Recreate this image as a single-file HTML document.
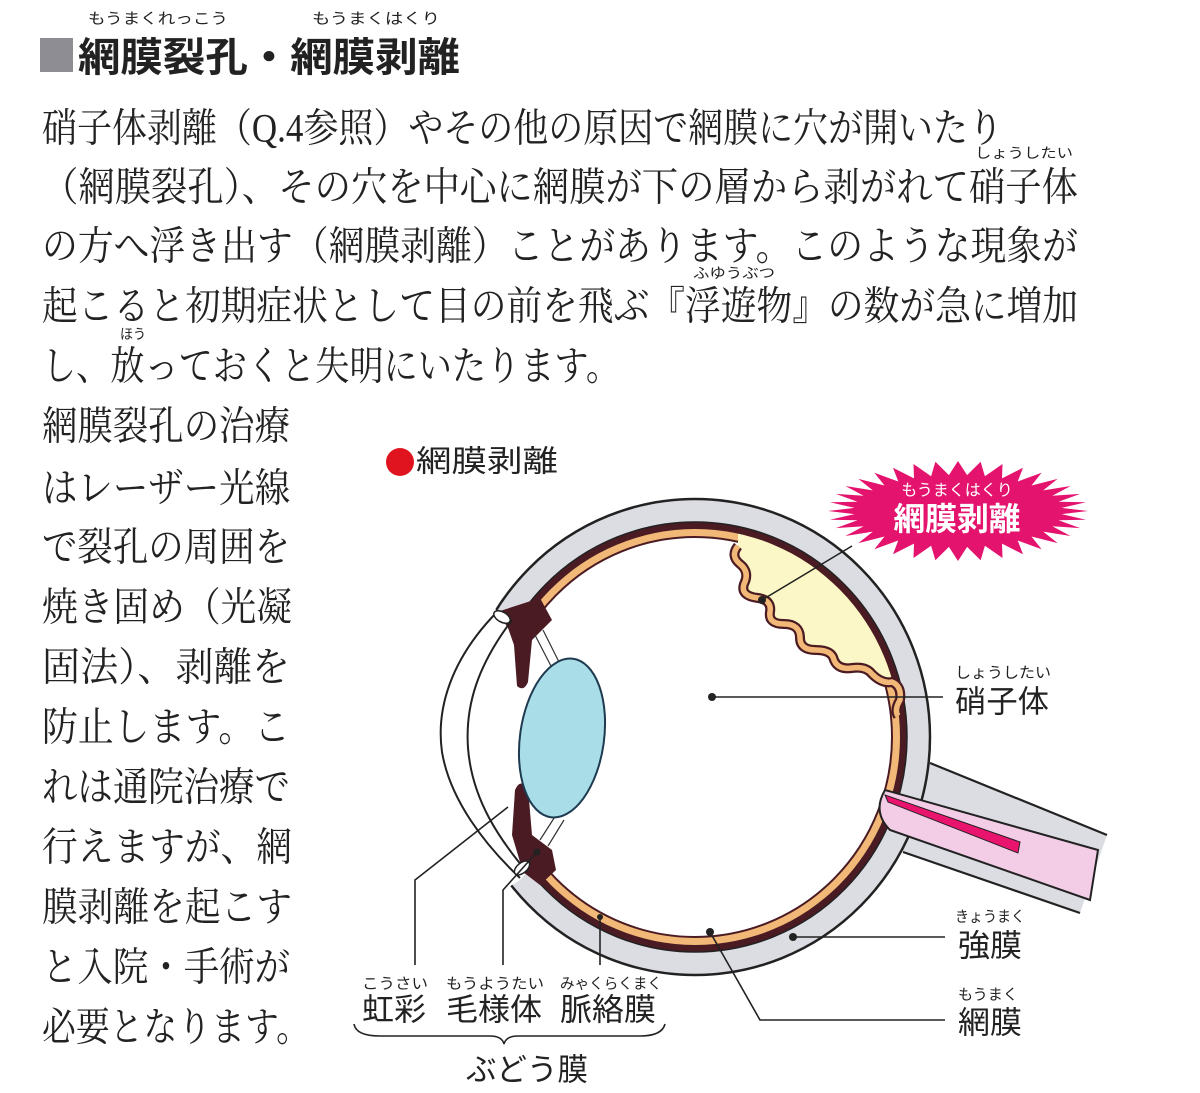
<!DOCTYPE html>
<html><head><meta charset="utf-8"><style>
html,body{margin:0;padding:0;background:#fff;}
svg{display:block;}
.m{font-family:"Liberation Serif","Noto Serif CJK JP","Noto Serif CJK SC",serif;fill:#222;}
.g{font-family:"Liberation Sans","Noto Sans CJK JP",sans-serif;fill:#222;}
</style></head><body>
<svg width="1200" height="1093" viewBox="0 0 1200 1093" xmlns="http://www.w3.org/2000/svg">
<defs>
<clipPath id="ch"><ellipse cx="695" cy="737" rx="205" ry="208"/></clipPath>
</defs>
<rect x="40" y="38" width="33" height="34" fill="#8d8d93"/>
<text class="g" x="78" y="58" font-size="40" font-weight="bold" dominant-baseline="central" textLength="382" lengthAdjust="spacingAndGlyphs">網膜裂孔・網膜剥離</text>
<text class="g" x="88" y="19" font-size="15" dominant-baseline="central" textLength="140" lengthAdjust="spacingAndGlyphs">もうまくれっこう</text>
<text class="g" x="312" y="19" font-size="15" dominant-baseline="central" textLength="128" lengthAdjust="spacingAndGlyphs">もうまくはくり</text>

<g class="m" font-size="40">
<text x="42" y="128" dominant-baseline="central" textLength="961" lengthAdjust="spacingAndGlyphs">硝子体剥離（Q.4参照）やその他の原因で網膜に穴が開いたり</text>
<text x="42" y="187" dominant-baseline="central" textLength="1036" lengthAdjust="spacingAndGlyphs">（網膜裂孔）、その穴を中心に網膜が下の層から剥がれて硝子体</text>
<text x="42" y="246" dominant-baseline="central" textLength="1036" lengthAdjust="spacingAndGlyphs">の方へ浮き出す（網膜剥離）ことがあります。このような現象が</text>
<text x="42" y="306" dominant-baseline="central" textLength="1036" lengthAdjust="spacingAndGlyphs">起こると初期症状として目の前を飛ぶ『浮遊物』の数が急に増加</text>
<text x="42" y="366" dominant-baseline="central" textLength="578" lengthAdjust="spacingAndGlyphs">し、放っておくと失明にいたります。</text>
</g>
<g class="g" font-size="14">
<text x="975" y="153" dominant-baseline="central" textLength="98" lengthAdjust="spacingAndGlyphs">しょうしたい</text>
<text x="693" y="273" dominant-baseline="central" textLength="82" lengthAdjust="spacingAndGlyphs">ふゆうぶつ</text>
<text x="120" y="334" dominant-baseline="central" textLength="26" lengthAdjust="spacingAndGlyphs">ほう</text>
</g>
<g class="m" font-size="40">
<text x="42" y="426" dominant-baseline="central" textLength="248" lengthAdjust="spacingAndGlyphs">網膜裂孔の治療</text>
<text x="42" y="488" dominant-baseline="central" textLength="248" lengthAdjust="spacingAndGlyphs">はレーザー光線</text>
<text x="42" y="547" dominant-baseline="central" textLength="248" lengthAdjust="spacingAndGlyphs">で裂孔の周囲を</text>
<text x="42" y="607" dominant-baseline="central" textLength="250" lengthAdjust="spacingAndGlyphs">焼き固め（光凝</text>
<text x="42" y="667" dominant-baseline="central" textLength="248" lengthAdjust="spacingAndGlyphs">固法）、剥離を</text>
<text x="42" y="727" dominant-baseline="central" textLength="248" lengthAdjust="spacingAndGlyphs">防止します。こ</text>
<text x="42" y="787" dominant-baseline="central" textLength="248" lengthAdjust="spacingAndGlyphs">れは通院治療で</text>
<text x="42" y="847" dominant-baseline="central" textLength="250" lengthAdjust="spacingAndGlyphs">行えますが、網</text>
<text x="42" y="907" dominant-baseline="central" textLength="250" lengthAdjust="spacingAndGlyphs">膜剥離を起こす</text>
<text x="42" y="967" dominant-baseline="central" textLength="248" lengthAdjust="spacingAndGlyphs">と入院・手術が</text>
<text x="42" y="1027" dominant-baseline="central" textLength="268" lengthAdjust="spacingAndGlyphs">必要となります。</text>
</g>

<circle cx="400" cy="462" r="14" fill="#e0141e"/>
<text class="g" x="416" y="462" font-size="30" dominant-baseline="central" textLength="142" lengthAdjust="spacingAndGlyphs">網膜剥離</text>

<path d="M905,745 L930,763 L1107,835 L1080,913 L903,852 Z" fill="#dcdde3"/>
<path d="M930,763 L1107,835 M903,852 L1080,913" stroke="#222" stroke-width="2.2" fill="none"/>

<ellipse cx="695" cy="737" rx="235" ry="238" fill="#dcdde3" stroke="#222" stroke-width="2.5"/>
<ellipse cx="695" cy="737" rx="212" ry="215" fill="#4b1b23" stroke="#222" stroke-width="1.5"/>
<ellipse cx="695" cy="737" rx="205" ry="208" fill="#f2b877"/>
<ellipse cx="695" cy="737" rx="197" ry="200" fill="#fff" stroke="#4b1b23" stroke-width="2"/>
<path clip-path="url(#ch)" d="M738,546 q-8,10 2,18 q10,8 4,20 q-4,12 14,14 q14,2 12,14 q-2,12 14,12 q16,0 16,14 q0,12 16,12 q16,0 18,10 q4,10 18,8 q14,-2 20,6 q10,10 20,8 q10,4 8,18 L960,700 L960,470 L738,470 Z" fill="#fbf7c6"/>
<path d="M738,546 q-8,10 2,18 q10,8 4,20 q-4,12 14,14 q14,2 12,14 q-2,12 14,12 q16,0 16,14 q0,12 16,12 q16,0 18,10 q4,10 18,8 q14,-2 20,6 q10,10 20,8 q10,4 8,18 q-6,10 -2,16" fill="none" stroke="#4b1b23" stroke-width="10" stroke-linejoin="round"/>
<path d="M738,546 q-8,10 2,18 q10,8 4,20 q-4,12 14,14 q14,2 12,14 q-2,12 14,12 q16,0 16,14 q0,12 16,12 q16,0 18,10 q4,10 18,8 q14,-2 20,6 q10,10 20,8 q10,4 8,18 q-6,10 -2,16" fill="none" stroke="#f2b877" stroke-width="5.5" stroke-linejoin="round"/>

<path d="M1098,850 L1090,900 L890,830 Q872,812 885,790 Z" fill="#f3cde6" stroke="#222" stroke-width="2"/>
<path d="M885,795 L1020,842 L1018,853 L888,802 Z" fill="#e8146e" stroke="#222" stroke-width="1"/>

<path d="M470,560 L497,612 L512,622 L540,612 L552,650 L560,740 L552,840 L540,862 L527,872 L520,880 L480,905 L380,740 Z" fill="#fff"/>
<path d="M497,612 L540,598 L552,620 L532,640 L528,682 Q524,692 517,686 L514,645 L508,628 Z" fill="#4b1b23"/>
<path d="M515,790 Q520,778 528,788 L532,835 L552,850 L556,870 L540,885 L523,872 L512,835 Z" fill="#4b1b23"/>
<path d="M535,635 L552,668 M543,630 L560,664 M540,840 L556,815 M548,846 L564,820" stroke="#333" stroke-width="1.2"/>
<ellipse cx="562" cy="738" rx="42" ry="80" transform="rotate(8 562 738)" fill="#a9dde7" stroke="#1e3a50" stroke-width="2"/>
<path d="M497,612 C450,660 436,710 442,752 C450,800 485,845 520,878" fill="none" stroke="#222" stroke-width="2"/>
<path d="M512,620 C478,665 465,705 468,748 C472,800 500,840 527,872" fill="none" stroke="#222" stroke-width="2"/>
<ellipse cx="502" cy="617" rx="9" ry="5" transform="rotate(30 502 617)" fill="#fff" stroke="#222" stroke-width="1.5"/>
<ellipse cx="522" cy="868" rx="9" ry="5" transform="rotate(-40 522 868)" fill="#fff" stroke="#222" stroke-width="1.5"/>

<polygon id="burst" fill="#e4136e" points=""/>
<text class="g" x="957" y="491" font-size="16" style="fill:#fff" text-anchor="middle" dominant-baseline="central">もうまくはくり</text>
<text class="g" x="957" y="519" font-size="32" font-weight="bold" style="fill:#fff" text-anchor="middle" dominant-baseline="central" textLength="127" lengthAdjust="spacingAndGlyphs">網膜剥離</text>

<g stroke="#222" stroke-width="1.6" fill="none">
<path d="M762,600 L852,546"/>
<path d="M712,697 L943,697"/>
<path d="M793,937 L945,937"/>
<path d="M710,932 L760,1020 L945,1020"/>
<path d="M508,807 L415,880 L415,965"/>
<path d="M537,852 L503,890 L503,965"/>
<path d="M600,917 L600,965"/>
<path d="M354,1024 Q356,1036 380,1036 L490,1036 Q502,1036 504,1044 Q506,1036 518,1036 L640,1036 Q662,1036 665,1024"/>
</g>
<g fill="#222">
<circle cx="762" cy="600" r="4"/><circle cx="712" cy="697" r="4"/><circle cx="793" cy="937" r="4"/><circle cx="710" cy="932" r="4"/><circle cx="537" cy="852" r="3.5"/><circle cx="600" cy="917" r="3"/>
</g>

<g class="g">
<text x="955" y="673" font-size="15" dominant-baseline="central" textLength="96" lengthAdjust="spacingAndGlyphs">しょうしたい</text>
<text x="955" y="702" font-size="31" dominant-baseline="central" textLength="94" lengthAdjust="spacingAndGlyphs">硝子体</text>
<text x="955" y="917" font-size="15" dominant-baseline="central" textLength="70" lengthAdjust="spacingAndGlyphs">きょうまく</text>
<text x="958" y="946" font-size="31" dominant-baseline="central" textLength="64" lengthAdjust="spacingAndGlyphs">強膜</text>
<text x="958" y="995" font-size="15" dominant-baseline="central" textLength="60" lengthAdjust="spacingAndGlyphs">もうまく</text>
<text x="958" y="1023" font-size="31" dominant-baseline="central" textLength="64" lengthAdjust="spacingAndGlyphs">網膜</text>
<text x="362" y="984" font-size="15" dominant-baseline="central" textLength="66" lengthAdjust="spacingAndGlyphs">こうさい</text>
<text x="446" y="984" font-size="15" dominant-baseline="central" textLength="98" lengthAdjust="spacingAndGlyphs">もうようたい</text>
<text x="560" y="984" font-size="15" dominant-baseline="central" textLength="102" lengthAdjust="spacingAndGlyphs">みゃくらくまく</text>
<text x="362" y="1010" font-size="31" dominant-baseline="central" textLength="64" lengthAdjust="spacingAndGlyphs">虹彩</text>
<text x="446" y="1010" font-size="31" dominant-baseline="central" textLength="96" lengthAdjust="spacingAndGlyphs">毛様体</text>
<text x="560" y="1010" font-size="31" dominant-baseline="central" textLength="96" lengthAdjust="spacingAndGlyphs">脈絡膜</text>
<text x="466" y="1070" font-size="31" dominant-baseline="central" textLength="122" lengthAdjust="spacingAndGlyphs">ぶどう膜</text>
</g>
</svg>
<script>
(function(){
var cx=958,cy=511,n=36,pts=[];
for(var i=0;i<n*2;i++){
 var a=Math.PI*i/n;
 var o=(i%2==0);
 var rx=o?130:104, ry=o?50:36;
 pts.push((cx+rx*Math.cos(a)).toFixed(1)+","+(cy+ry*Math.sin(a)).toFixed(1));
}
document.getElementById('burst').setAttribute('points',pts.join(' '));
})();
</script>
</body></html>
